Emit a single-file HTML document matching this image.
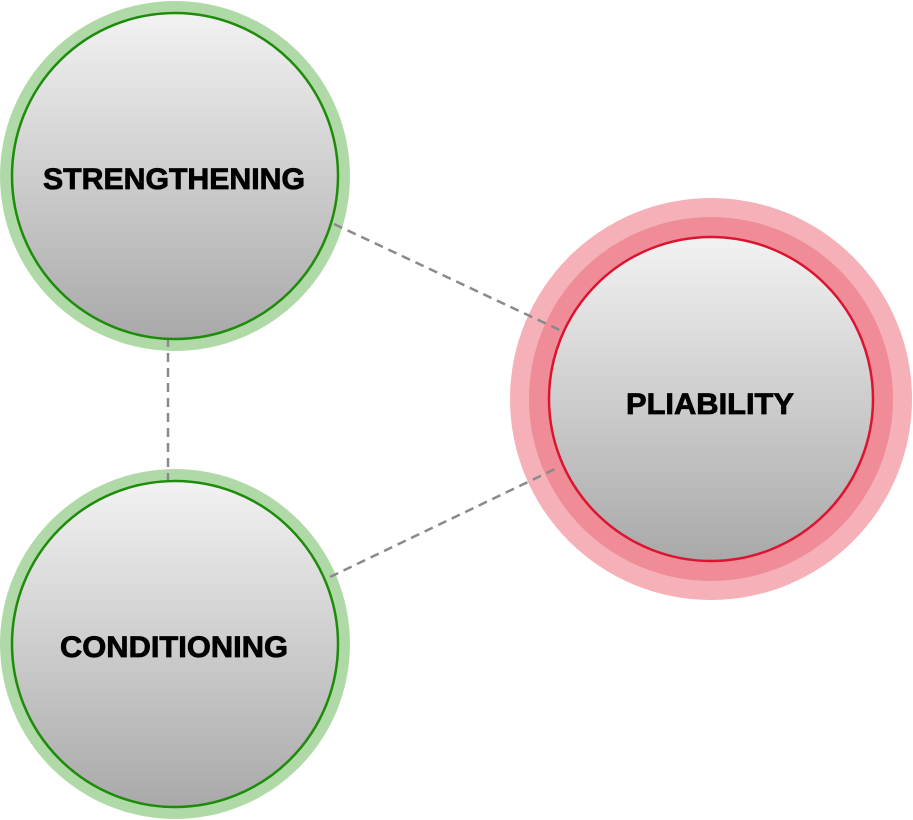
<!DOCTYPE html>
<html><head><style>html,body{margin:0;padding:0;background:#fff}svg{display:block}</style></head>
<body>
<svg width="913" height="820" viewBox="0 0 913 820" xmlns="http://www.w3.org/2000/svg">
<defs>
<linearGradient id="g" x1="0" y1="0" x2="0" y2="1">
<stop offset="0" stop-color="#f2f2f2"/><stop offset="1" stop-color="#a9a9a9"/>
</linearGradient>
</defs>
<circle cx="175" cy="176" r="175" fill="#b0d9a8"/>
<circle cx="175" cy="644" r="175" fill="#b0d9a8"/>
<circle cx="711" cy="399" r="201" fill="#f5b0b8"/>
<circle cx="711" cy="399" r="182" fill="#ef8c98"/>
<g stroke="#8a8a8a" stroke-width="2.5" stroke-dasharray="9,6" fill="none">
<line x1="334" y1="224" x2="566" y2="333"/>
<line x1="168" y1="338" x2="168" y2="481"/>
<line x1="330" y1="577" x2="557" y2="468"/>
</g>
<circle cx="175" cy="176" r="163" fill="url(#g)" stroke="#1e8c0a" stroke-width="2.5"/>
<circle cx="175" cy="644" r="163" fill="url(#g)" stroke="#1e8c0a" stroke-width="2.5"/>
<circle cx="711" cy="399" r="162" fill="url(#g)" stroke="#dc1430" stroke-width="2.5"/>
<g font-family="Liberation Sans, sans-serif" font-weight="bold" font-size="30" fill="#000" stroke="#000" stroke-width="0.8" text-anchor="middle">
<text x="174" y="189" textLength="262" lengthAdjust="spacingAndGlyphs">STRENGTHENING</text>
<text x="174" y="657" textLength="228" lengthAdjust="spacingAndGlyphs">CONDITIONING</text>
<text x="710" y="414" textLength="168" lengthAdjust="spacingAndGlyphs">PLIABILITY</text>
</g>
</svg>
</body></html>
